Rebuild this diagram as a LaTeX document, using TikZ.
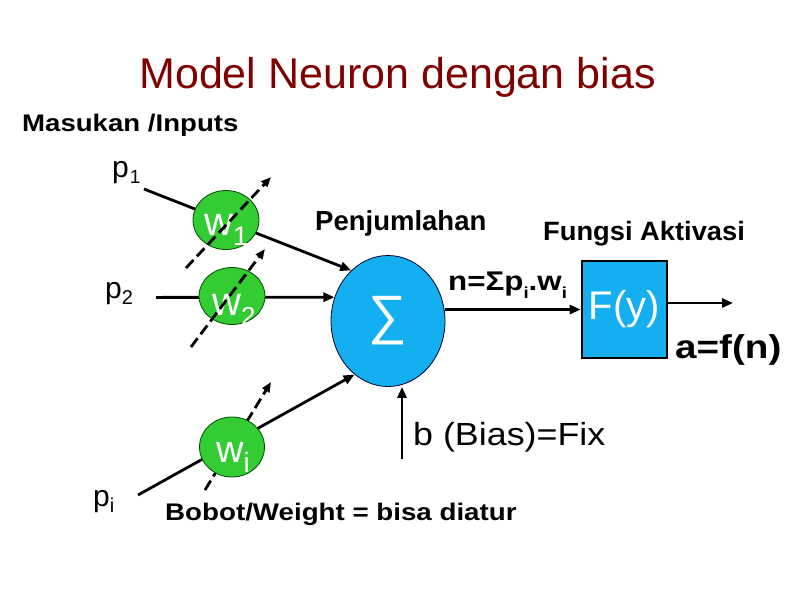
\documentclass[tikz,border=0pt]{standalone}
\usepackage{fontspec}
\usepackage{graphicx}
\setmainfont{Liberation Sans}
\usetikzlibrary{arrows.meta,shapes.geometric}
\pgfdeclarelayer{background}
\pgfsetlayers{background,main}
\definecolor{titlered}{RGB}{128,0,0}
\definecolor{wgreen}{RGB}{51,204,51}
\definecolor{nblue}{RGB}{20,175,240}
\newcommand\fsz[1]{\fontsize{#1}{#1}\selectfont}
\newcommand\hs[2]{\scalebox{#1}[1]{#2}}
\newcommand\sbx[3]{\raisebox{-#2pt}{\fsz{#1}#3}}
\begin{document}
\begin{tikzpicture}[x=1pt,y=-1pt,
  txt/.style={inner sep=0pt,anchor=base west},
  wnode/.style={ellipse,fill=wgreen,draw=black!70!green,line width=0.8pt,minimum width=66pt,minimum height=59pt,inner sep=0pt},
  wtxt/.style={txt,text=white},
  conn/.style={line width=2.8pt,-{Triangle[length=11pt,width=9pt]}},
  dconn/.style={line width=2.8pt,dash pattern=on 11pt off 5pt,-{Triangle[length=10pt,width=8pt]}}]
\useasboundingbox (0,0) rectangle (794,595);
% title and labels
\node[inner sep=0pt,anchor=base,text=titlered] (title) at (397.5,88) {\fsz{43}Model Neuron dengan bias};
\node[txt] (inp) at (22,131) {\bfseries\fsz{24}\hs{1.15}{Masukan /Inputs}};
\node[txt] (p1) at (112,177) {\fsz{30}p\kern1pt\sbx{19}{6}{1}};
\node[txt] (p2) at (105,298) {\fsz{30}p\sbx{20}{6}{2}};
\node[txt] (pi) at (93,506) {\fsz{30}p\sbx{20}{6}{i}};
% weights
\node[wnode] (w1) at (226,220) {};
\node[wnode,minimum height=57pt] (w2) at (232,296) {};
\node[wnode,minimum width=65pt,minimum height=60pt] (wi) at (232,447) {};
\node[wtxt] (w1t) at (204,235) {\fsz{40}w\sbx{27}{10}{1}};
\node[wtxt] (w2t) at (212,315) {\fsz{40}w\sbx{26}{10}{2}};
\node[wtxt] (wit) at (216,462) {\fsz{38}w\sbx{28}{10}{i}};
% summation and activation
\node[ellipse,fill=nblue,draw=black!80!blue,line width=0.8pt,minimum width=114pt,minimum height=131pt,inner sep=0pt,text=white] (sig) at (388,321) {\fsz{54}∑};
\node[rectangle,fill=nblue,draw=black,line width=2.6pt,minimum width=85pt,minimum height=97pt,inner sep=0pt,text=white] (box) at (624.5,309.5) {\fsz{40}F(y)};
\node[txt] (penj) at (315,230) {\bfseries\fsz{27.5}Penjumlahan};
\node[txt] (fung) at (543,240) {\bfseries\fsz{26.5}\hs{1.03}{Fungsi Aktivasi}};
\node[txt] (nsum) at (448,290) {\bfseries\fsz{27}\hs{1.16}{n=Σp\sbx{16}{8}{i}.w\sbx{16}{8}{i}}};
\node[txt] (aout) at (675,358) {\bfseries\fsz{33}\hs{1.17}{a=f(n)}};
\node[txt] (bias) at (413,445) {\fsz{32}\hs{1.12}{b (Bias)=Fix}};
\node[txt] (bobot) at (165,520) {\bfseries\fsz{24}\hs{1.155}{Bobot/Weight = bisa diatur}};
% coordinates
\coordinate (p1s) at (144,189);
\coordinate (p2s) at (156,297.4);
\coordinate (pis) at (138,495);
\coordinate (d1a) at (186,268);
\coordinate (d1b) at (271,177);
\coordinate (d2a) at (191,347);
\coordinate (d2b) at (265,249);
\coordinate (dia) at (205,490);
\coordinate (dib) at (271,382);
\coordinate (oend) at (733,303);
\coordinate (bs) at (402,459);
% connectors
\begin{pgfonlayer}{background}
\draw[conn] (p1s) -- (sig.126);
\draw[conn] (p2s) -- (sig.156);
\draw[conn] (pis) -- (sig.238);
\draw[dconn] (dia) -- (dib);
\end{pgfonlayer}
\draw[dconn] (d1a) -- (d1b);
\draw[dconn] (d2a) -- (d2b);
\draw[conn] (sig.east |- box.west) -- (box.west);
\draw[conn] (box.east |- oend) -- (oend);
\draw[conn] (bs) -- (bs |- sig.south);
\end{tikzpicture}
\end{document}
